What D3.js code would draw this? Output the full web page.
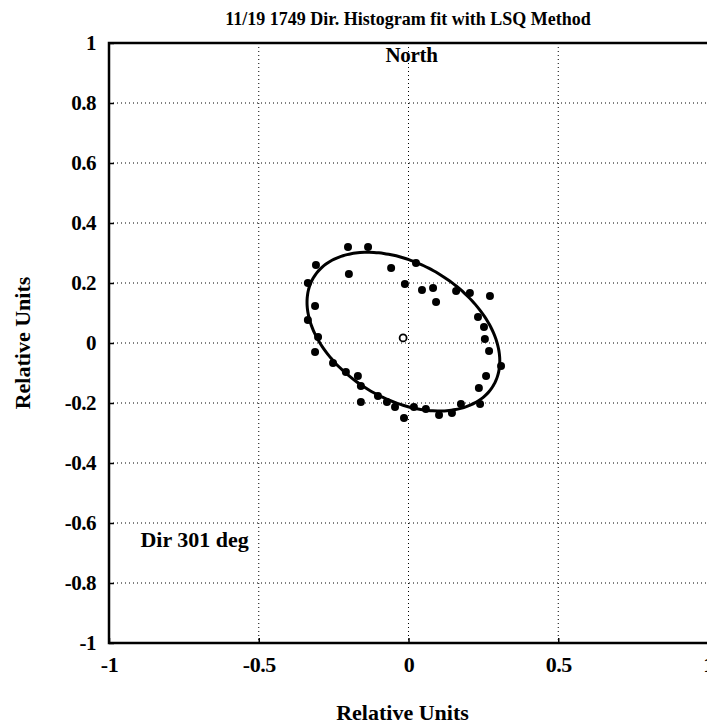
<!DOCTYPE html>
<html lang="en">
<head>
<meta charset="UTF-8">
<title>Dir. Histogram fit with LSQ Method</title>
<script src="https://d3js.org/d3.v7.min.js"></script>
<style>
  html, body { margin: 0; padding: 0; background: #fff; }
  svg { display: block; }
  text { font-family: "Liberation Serif", "DejaVu Serif", serif; font-weight: bold; fill: #000; }
  .grid line { stroke: #000; stroke-width: 1; stroke-dasharray: 1 3; }
</style>
</head>
<body>
<svg id="chart" width="707" height="724"></svg>
<script>
'use strict';

// tick values
const xTicks = [-1, -0.5, 0, 0.5, 1];
const yTicks = [-1, -0.8, -0.6, -0.4, -0.2, 0, 0.2, 0.4, 0.6, 0.8, 1];

// histogram points
const ptX = [-0.202, -0.135, -0.309, -0.058, 0.025, -0.199, -0.336, -0.012, 0.045, 0.082,
             0.159, 0.205, 0.272, 0.092, -0.312, 0.232, -0.336, 0.252, 0.255, -0.302,
             0.269, -0.312, -0.252, 0.309, -0.209, -0.169, 0.259, -0.159, 0.235, -0.102,
             -0.159, -0.072, -0.045, 0.018, 0.058, 0.102, 0.145, 0.175, 0.239, -0.015];
const ptY = [0.32, 0.32, 0.26, 0.25, 0.267, 0.23, 0.2, 0.197, 0.177, 0.183,
             0.173, 0.167, 0.157, 0.137, 0.123, 0.087, 0.077, 0.053, 0.013, 0.02,
             -0.027, -0.03, -0.067, -0.077, -0.097, -0.11, -0.11, -0.143, -0.15, -0.177,
             -0.197, -0.197, -0.213, -0.213, -0.22, -0.24, -0.233, -0.203, -0.203, -0.25];

// open circle at the centre
const centre = [-0.018, 0.017];

// fitted ellipse (LSQ) parameters
const fitCentre = [-0.017, 0.038];
const fitA = 0.350, fitB = 0.226, fitAngleDeg = -31;

const svg = d3.select('#chart');
const x = d3.scaleLinear().domain([-1, 1]).range([109, 708]);
const y = d3.scaleLinear().domain([-1, 1]).range([643, 43]);

// grid
const grid = svg.append('g').attr('class', 'grid');
grid.selectAll('.gx').data(xTicks.slice(1, -1)).enter().append('line')
  .attr('x1', d => x(d)).attr('x2', d => x(d)).attr('y1', 43).attr('y2', 643);
grid.selectAll('.gy').data(yTicks.slice(1, -1)).enter().append('line')
  .attr('y1', d => y(d)).attr('y2', d => y(d)).attr('x1', 109).attr('x2', 708);

// axes
const xAxis = d3.axisBottom(x).tickValues(xTicks).tickSize(-5).tickPadding(13)
  .tickFormat(d => String(d));
const gx = svg.append('g').attr('transform', 'translate(0,643)').call(xAxis);
gx.select('.domain').remove();
gx.selectAll('line').attr('stroke', '#000').attr('stroke-width', 1.5);
gx.selectAll('text').attr('font-size', 22).attr('font-family', '"Liberation Serif", serif')
  .attr('font-weight', 'bold').attr('letter-spacing', -0.5);

const yAxis = d3.axisLeft(y).tickValues(yTicks).tickSize(-5).tickPadding(13)
  .tickFormat(d => String(d));
const gy = svg.append('g').attr('transform', 'translate(109,0)').call(yAxis);
gy.select('.domain').remove();
gy.selectAll('line').attr('stroke', '#000').attr('stroke-width', 1.5);
gy.selectAll('text').attr('font-size', 21).attr('font-family', '"Liberation Serif", serif')
  .attr('font-weight', 'bold').attr('letter-spacing', -0.5);

// frame
svg.append('path')
  .attr('d', `M${x(1) + 2},${y(1)} H${x(-1)} V${y(-1)} H${x(1) + 2}`)
  .attr('fill', 'none').attr('stroke', '#000').attr('stroke-width', 2.5);

// fitted ellipse
const th = fitAngleDeg * Math.PI / 180;
const ang = d3.range(0, 361, 3).map(a => a * Math.PI / 180);
const ell = ang.map(t => [
  fitCentre[0] + fitA * Math.cos(t) * Math.cos(th) - fitB * Math.sin(t) * Math.sin(th),
  fitCentre[1] + fitA * Math.cos(t) * Math.sin(th) + fitB * Math.sin(t) * Math.cos(th)
]);
svg.append('path').datum(ell)
  .attr('d', d3.line().x(d => x(d[0])).y(d => y(d[1])).curve(d3.curveCardinalClosed))
  .attr('fill', 'none').attr('stroke', '#000').attr('stroke-width', 3);

// points
svg.append('g').selectAll('circle').data(ptX).enter().append('circle')
  .attr('cx', d => x(d)).attr('cy', (d, i) => y(ptY[i])).attr('r', 4).attr('fill', '#000');

svg.append('circle').attr('cx', x(centre[0])).attr('cy', y(centre[1])).attr('r', 3.5)
  .attr('fill', 'none').attr('stroke', '#000').attr('stroke-width', 1.8);

// labels
svg.append('text').attr('x', 408).attr('y', 25).attr('text-anchor', 'middle')
  .attr('font-size', 18).text('11/19 1749 Dir. Histogram fit with LSQ Method');
svg.append('text').attr('x', x(0.01)).attr('y', y(0.937)).attr('text-anchor', 'middle')
  .attr('font-size', 21).attr('letter-spacing', -0.3).text('North');
svg.append('text').attr('x', x(-0.895)).attr('y', y(-0.68)).attr('font-size', 22)
  .text('Dir 301 deg');
svg.append('text').attr('x', x(-0.02)).attr('y', 720).attr('text-anchor', 'middle')
  .attr('font-size', 22).text('Relative Units');
svg.append('text').attr('transform', `translate(30,${y(0)}) rotate(-90)`)
  .attr('text-anchor', 'middle').attr('font-size', 22).text('Relative Units');
</script>
</body>
</html>
